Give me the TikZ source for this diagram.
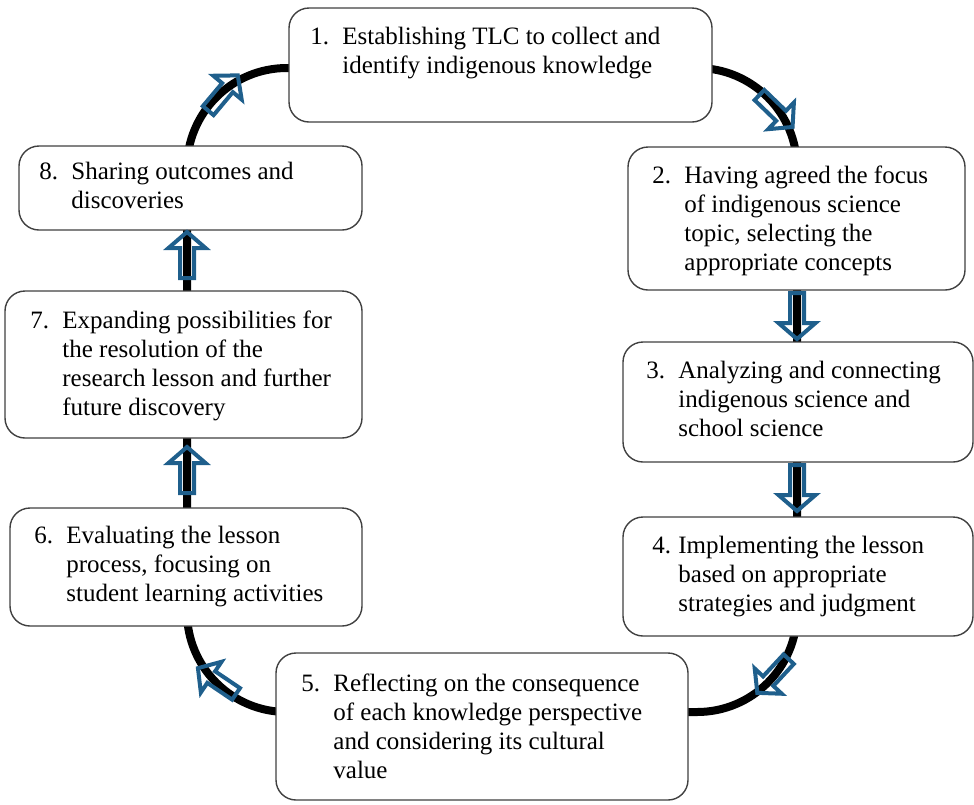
\documentclass[tikz,border=0pt,12pt]{standalone}
\usepackage{fontspec}
\setmainfont{Liberation Serif}
\usetikzlibrary{fit}
\definecolor{arrowblue}{RGB}{31,95,140}
\newcommand{\stepitem}[3][16pt]{\makebox[#1][l]{#2}\begin{tabular}[t]{@{}l@{}}#3\end{tabular}}
\tikzset{
  blockarr/.pic={
    \draw[arrowblue, line width=2pt, line join=miter]
      (-23,-7) -- (7,-7) -- (7,-18.5) -- (23,0) -- (7,18.5) -- (7,7) -- (-23,7) -- cycle;
  }
}
\begin{document}
\begin{tikzpicture}[x=0.5pt, y=-0.5pt,
    stepbox/.style={draw=black!75, line width=0.7pt, fill=white, rounded corners=10pt, inner sep=0pt},
    steptxt/.style={inner sep=0pt, anchor=base west, align=left, font=\fontsize{12.5}{14.5}\selectfont}]
  \useasboundingbox (0,0) rectangle (974,804);
  % Kreislauf
  \draw[line width=4pt, rounded corners=50pt] (187,68) rectangle (797,712);
  % Kaesten
  \node[stepbox, fit={(289,8) (712,122)}] (b1) {};
  \node[stepbox, fit={(628,147) (965,290)}] (b2) {};
  \node[stepbox, fit={(623,342) (973,462)}] (b3) {};
  \node[stepbox, fit={(623,517) (973,636)}] (b4) {};
  \node[stepbox, fit={(276,653) (688,800)}] (b5) {};
  \node[stepbox, fit={(10,508) (362,626)}] (b6) {};
  \node[stepbox, fit={(5,291) (362,438)}] (b7) {};
  \node[stepbox, fit={(19,146) (362,230)}] (b8) {};
  % Texte
  \node[steptxt] (t1) at (310,44) {\stepitem{1.}{Establishing TLC to collect and\\identify indigenous knowledge}};
  \node[steptxt] (t2) at (652,183) {\stepitem{2.}{Having agreed the focus\\of indigenous science\\topic, selecting the\\appropriate concepts}};
  \node[steptxt] (t3) at (646,378) {\stepitem{3.}{Analyzing and connecting\\indigenous science and\\school science}};
  \node[steptxt] (t4) at (652,553) {\stepitem[13pt]{4.}{Implementing the lesson\\based on appropriate\\strategies and judgment}};
  \node[steptxt] (t5) at (301,691) {\stepitem{5.}{Reflecting on the consequence\\of each knowledge perspective\\and considering its cultural\\value}};
  \node[steptxt] (t6) at (34,543) {\stepitem{6.}{Evaluating the lesson\\process, focusing on\\student learning activities}};
  \node[steptxt] (t7) at (30,328) {\stepitem{7.}{Expanding possibilities for\\the resolution of the\\research lesson and further\\future discovery}};
  \node[steptxt] (t8) at (39,179) {\stepitem{8.}{Sharing outcomes and\\discoveries}};
  % Pfeile
  \pic[rotate=50] at (223,93) {blockarr};
  \pic[rotate=-44] at (776,111) {blockarr};
  \pic[rotate=-90] at (797,316) {blockarr};
  \pic[rotate=-90] at (797,488) {blockarr};
  \pic[rotate=-133] at (773,676) {blockarr};
  \pic[rotate=146] at (217,681) {blockarr};
  \pic[rotate=90] at (187,470) {blockarr};
  \pic[rotate=90] at (187,255) {blockarr};
\end{tikzpicture}
\end{document}
